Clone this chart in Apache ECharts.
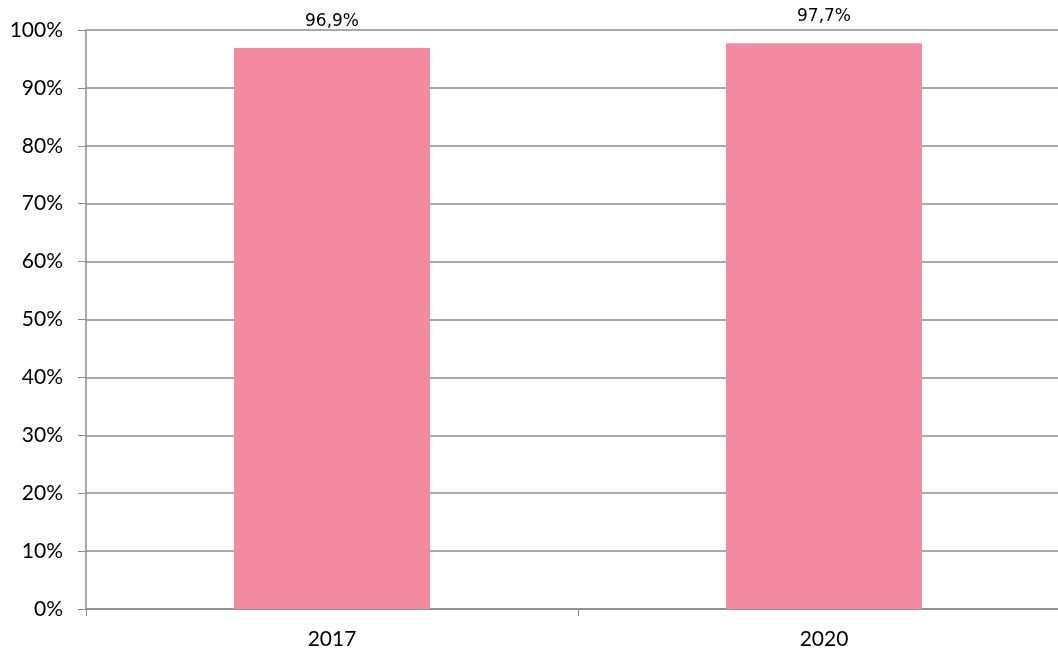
<!DOCTYPE html>
<html><head><meta charset="utf-8">
<script src="https://cdn.jsdelivr.net/npm/echarts@6/dist/echarts.min.js"></script>
<style>html,body{margin:0;padding:0;background:#fff;overflow:hidden;width:1058px;height:651px}#c{width:1070px;height:651px}</style>
</head><body><div id="c"></div>
<script>
const categories = ['2017', '2020'];
const values = [96.9, 97.7];
const yTicks = [0, 10, 20, 30, 40, 50, 60, 70, 80, 90, 100];

const chart = echarts.init(document.getElementById('c'));
chart.setOption({
  animation: false,
  grid: { left: 86, right: 0, top: 30, bottom: 42, containLabel: false },
  xAxis: {
    type: 'category', data: categories,
    axisLine: { lineStyle: { color: '#8c8c8c', width: 1.5 } },
    axisTick: { show: true, alignWithLabel: false, length: 7, lineStyle: { color: '#8c8c8c' } },
    axisLabel: { color: '#000', fontFamily: 'Lato', fontSize: 21, margin: 20 }
  },
  yAxis: {
    type: 'value', min: 0, max: 100, interval: 10,
    axisLine: { show: true, lineStyle: { color: '#8c8c8c', width: 1.5 } },
    axisTick: { show: true, length: 8, lineStyle: { color: '#8c8c8c' } },
    splitLine: { lineStyle: { color: '#8c8c8c', width: 1.5 } },
    axisLabel: { color: '#000', fontFamily: 'Lato', fontSize: 21, margin: 23,
      formatter: v => yTicks.includes(v) ? v + '%' : '' }
  },
  series: [{
    type: 'bar', data: values, barWidth: 196,
    itemStyle: { color: '#F48AA2' },
    label: { show: true, position: 'top', distance: 18, color: '#000',
      fontFamily: 'DejaVu Sans', fontSize: 17,
      formatter: p => p.value.toFixed(1).replace('.', ',') + '%' }
  }]
});
</script></body></html>
